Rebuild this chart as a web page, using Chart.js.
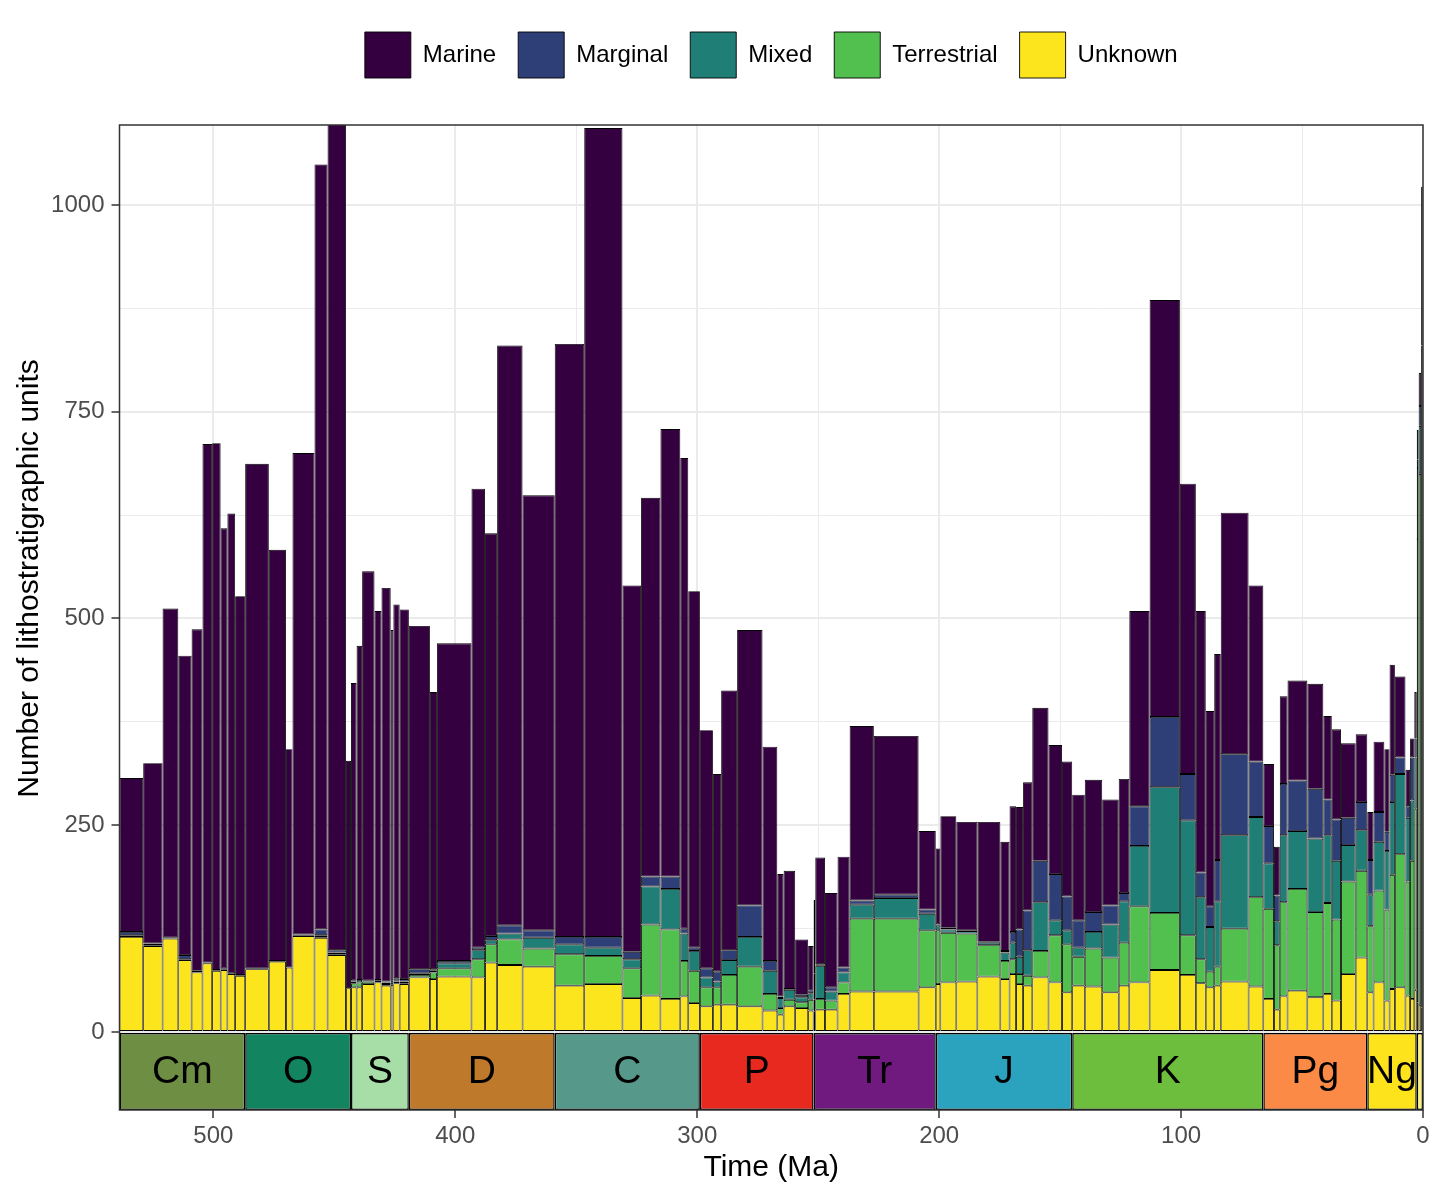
<!DOCTYPE html>
<html>
<head>
<meta charset="utf-8">
<title>Lithostratigraphic units through the Phanerozoic</title>
<script src="https://cdn.jsdelivr.net/npm/chart.js@4.4.1/dist/chart.umd.min.js"></script>
<style>
  html, body { margin: 0; padding: 0; background: #fff; }
  #wrap { width: 1440px; height: 1200px; }
</style>
</head>
<body>
<div id="wrap"><canvas id="units-chart" width="1440" height="1200"></canvas></div>
<script>
/* Lithostratigraphic units per stage, stacked by environment */

// stage boundaries (Ma), oldest first; stage i spans stageBounds[i] -> stageBounds[i + 1]
const stageBounds = [
  538.8, 529, 521, 514.5, 509, 504.5, 500.5, 497, 494.2, 491, 486.85,
  477.08, 470, 467.3, 458.2, 452.8, 445.2, 443.1,
  440.8, 438.5, 433.4, 430.5, 426.7, 425.6, 423, 419.2,
  410.5, 407.6, 393.3, 387.7, 382.7, 372.2, 358.9,
  346.7, 330.9, 323.2, 315.2, 307, 303.7, 298.9,
  293.52, 290.1, 283.5, 273.01, 266.9, 264.28, 259.51, 254.14, 251.902,
  251.2, 247.2, 242, 237, 227, 208.5, 201.4,
  199.5, 192.9, 184.2, 174.7, 170.9, 168.2, 165.3, 161.5, 154.8, 149.2, 145,
  139.8, 132.6, 125.77, 121.4, 113, 100.5, 93.9, 89.8, 86.3, 83.6, 72.1, 66,
  61.6, 59.2, 56, 47.8, 41.2, 37.71, 33.9, 27.82, 23.03,
  20.44, 15.98, 13.82, 11.63, 7.246, 5.333, 3.6, 2.58,
  1.8, 0.774, 0.129
];

const stageNames = [
  'Fortunian', 'Stage 2', 'Stage 3', 'Stage 4', 'Wuliuan', 'Drumian', 'Guzhangian', 'Paibian', 'Jiangshanian', 'Stage 10',
  'Tremadocian', 'Floian', 'Dapingian', 'Darriwilian', 'Sandbian', 'Katian', 'Hirnantian',
  'Rhuddanian', 'Aeronian', 'Telychian', 'Sheinwoodian', 'Homerian', 'Gorstian', 'Ludfordian', 'Pridoli',
  'Lochkovian', 'Pragian', 'Emsian', 'Eifelian', 'Givetian', 'Frasnian', 'Famennian',
  'Tournaisian', 'Visean', 'Serpukhovian', 'Bashkirian', 'Moscovian', 'Kasimovian', 'Gzhelian',
  'Asselian', 'Sakmarian', 'Artinskian', 'Kungurian', 'Roadian', 'Wordian', 'Capitanian', 'Wuchiapingian', 'Changhsingian',
  'Induan', 'Olenekian', 'Anisian', 'Ladinian', 'Carnian', 'Norian', 'Rhaetian',
  'Hettangian', 'Sinemurian', 'Pliensbachian', 'Toarcian', 'Aalenian', 'Bajocian', 'Bathonian', 'Callovian', 'Oxfordian', 'Kimmeridgian', 'Tithonian',
  'Berriasian', 'Valanginian', 'Hauterivian', 'Barremian', 'Aptian', 'Albian', 'Cenomanian', 'Turonian', 'Coniacian', 'Santonian', 'Campanian', 'Maastrichtian',
  'Danian', 'Selandian', 'Thanetian', 'Ypresian', 'Lutetian', 'Bartonian', 'Priabonian', 'Rupelian', 'Chattian',
  'Aquitanian', 'Burdigalian', 'Langhian', 'Serravallian', 'Tortonian', 'Messinian', 'Zanclean', 'Piacenzian',
  'Gelasian', 'Calabrian', 'Chibanian'
];

// counts per stage (same order as stageNames)
const unknown = [
  115, 104, 113, 87, 72, 83, 74, 75, 70, 68,
  76, 85, 78, 116, 114, 93, 53,
  54, 54, 58, 60, 56, 57, 59, 58,
  66, 64, 67, 66, 84, 81, 79,
  56, 58, 41, 44, 40, 43, 35,
  31, 33, 33, 31, 26, 21, 31, 29, 26,
  25, 27, 27, 46, 49, 49, 54,
  58, 60, 61, 67, 64, 70, 58, 56, 66, 60, 48,
  56, 55, 48, 56, 60, 75, 69, 59, 54, 56, 61, 55,
  40, 27, 43, 50, 42, 46, 38, 70, 90,
  48, 60, 38, 52, 54, 44, 40, 51,
  36, 33, 30
];
const terrestrial = [
  0, 0, 0, 0, 0, 0, 0, 1, 0, 0,
  0, 0, 0, 1, 2, 1, 0,
  5, 6, 3, 2, 2, 1, 2, 1,
  3, 8, 10, 22, 22, 31, 22,
  38, 34, 36, 86, 84, 43, 39,
  23, 21, 36, 48, 20, 8, 8, 7, 13,
  14, 13, 11, 14, 88, 88, 69,
  65, 60, 58, 38, 22, 18, 12, 12, 32, 57, 58,
  35, 46, 42, 52, 92, 69, 48, 29, 19, 23, 64, 108,
  109, 78, 114, 123, 103, 110, 98, 112, 105,
  80, 111, 110, 138, 161, 138, 167, 219,
  560, 642, 600
];
const mixed = [
  2, 1, 1, 1, 0, 0, 0, 1, 0, 0,
  0, 1, 0, 1, 1, 2, 0,
  2, 3, 1, 1, 2, 4, 1, 2,
  2, 2, 6, 11, 5, 7, 13,
  12, 10, 11, 46, 49, 33, 24,
  12, 7, 18, 36, 28, 12, 12, 6, 8,
  30, 40, 11, 12, 17, 25, 20,
  6, 4, 3, 3, 10, 20, 21, 31, 59, 18, 17,
  11, 20, 40, 50, 73, 152, 139, 75, 54, 79, 113, 97,
  55, 29, 81, 70, 89, 82, 71, 44, 49,
  38, 59, 71, 88, 97, 77, 73, 62,
  86, 58, 150
];
const marginal = [
  4, 2, 0, 5, 2, 1, 1, 0, 1, 1,
  1, 0, 0, 0, 7, 3, 0,
  1, 0, 0, 0, 1, 0, 3, 3,
  5, 2, 3, 3, 5, 10, 9,
  9, 13, 9, 12, 15, 6, 4,
  11, 12, 12, 38, 12, 2, 1, 3, 3,
  2, 2, 5, 6, 5, 4, 5,
  1, 2, 1, 1, 2, 13, 33, 48, 50, 56, 41,
  33, 24, 23, 10, 48, 85, 56, 30, 25, 50, 98, 67,
  45, 31, 62, 61, 60, 43, 50, 33, 34,
  42, 36, 23, 33, 20, 14, 52, 23,
  10, 24, 50
];
const marine = [
  186, 218, 398, 362, 413, 627, 637, 532, 556, 458,
  610, 497, 264, 582, 925, 1081, 275,
  360, 404, 495, 446, 476, 424, 452, 447,
  415, 335, 384, 555, 487, 701, 526,
  717, 978, 443, 458, 541, 569, 431,
  288, 239, 314, 333, 259, 148, 143, 67, 54,
  89, 129, 114, 134, 211, 192, 95,
  92, 135, 131, 145, 132, 152, 148, 155, 185, 156, 163,
  152, 160, 128, 138, 236, 504, 351, 316, 236, 249, 292, 213,
  75, 59, 106, 121, 127, 101, 109, 90, 82,
  58, 85, 100, 133, 98, 44, 23, 56,
  36, 40, 192
];

// geological periods for the time scale strip ('' = no label, Quaternary too narrow)
const periodLabels = ['Cm', 'O', 'S', 'D', 'C', 'P', 'Tr', 'J', 'K', 'Pg', 'Ng', ''];
const periodStart = [538.8, 486.85, 443.1, 419.2, 358.9, 298.9, 251.902, 201.4, 145, 66, 23.03, 2.58];
const periodEnd = [486.85, 443.1, 419.2, 358.9, 298.9, 251.902, 201.4, 145, 66, 23.03, 2.58, 0];
const periodColors = ['#6E8E44', '#12845F', '#A7DDA7', '#BF792B', '#569889', '#E8291F',
  '#701A80', '#2BA3BF', '#6EBE3E', '#FA8A45', '#FDE31C', '#F9F27B'];

const Y_MIN = -94.3, Y_MAX = 1096.7;
const FONT = "'Liberation Sans', Arial, Helvetica, sans-serif";
Chart.defaults.font.family = FONT;

function stagePoints(values) {
  return values.map((v, i) => ({ x: (stageBounds[i] + stageBounds[i + 1]) / 2, y: v }));
}

const series = [
  { label: 'Unknown', values: unknown, color: '#FDE51E' },
  { label: 'Terrestrial', values: terrestrial, color: '#52C04F' },
  { label: 'Mixed', values: mixed, color: '#1F7F76' },
  { label: 'Marginal', values: marginal, color: '#2E3E77' },
  { label: 'Marine', values: marine, color: '#35003F' }
];

const datasets = series.map(s => ({
  label: s.label,
  stack: 'units',
  data: stagePoints(s.values),
  backgroundColor: s.color,
  borderColor: '#000000',
  borderWidth: 0.9,
  borderSkipped: false,
  inflateAmount: 0
}));

datasets.push({
  label: 'periods',
  stack: 'periods',
  data: periodLabels.map((_, i) => ({ x: (periodStart[i] + periodEnd[i]) / 2, y: [Y_MIN, 0] })),
  backgroundColor: periodColors,
  borderColor: '#000',
  borderWidth: 1.5,
  borderSkipped: false,
  inflateAmount: 0
});

// spans bars over their real stage / period interval, legend centring, panel frame, labels
const stagePlugin = {
  id: 'stagePlugin',
  beforeUpdate(chart) {
    const lg = chart.legend;
    if (lg && !lg._gapPatched) {
      const fit = lg.fit;
      lg.fit = function () { fit.call(this); this.height += 37; };
      lg._gapPatched = true;
    }
  },
  afterLayout(chart) {
    const lg = chart.legend, a = chart.chartArea;
    lg.left = a.left;
    lg.right = a.right;
    lg.width = a.right - a.left;
  },
  afterDatasetsUpdate(chart) {
    const xs = chart.scales.x;
    chart.data.datasets.forEach((ds, di) => {
      const isPeriod = ds.stack === 'periods';
      chart.getDatasetMeta(di).data.forEach((bar, i) => {
        const a = xs.getPixelForValue(isPeriod ? periodStart[i] : stageBounds[i]);
        const b = xs.getPixelForValue(isPeriod ? periodEnd[i] : stageBounds[i + 1]);
        bar.x = (a + b) / 2;
        bar.width = Math.abs(b - a);
      });
    });
  },
  afterDatasetsDraw(chart) {
    const { ctx, scales: { x, y } } = chart;
    ctx.save();
    ctx.font = `39px ${FONT}`;
    ctx.fillStyle = '#000';
    ctx.textAlign = 'center';
    ctx.textBaseline = 'middle';
    const cy = y.getPixelForValue(Y_MIN / 2) + 1;
    periodLabels.forEach((lab, i) => {
      if (!lab) return;
      ctx.fillText(lab, (x.getPixelForValue(periodStart[i]) + x.getPixelForValue(periodEnd[i])) / 2, cy);
    });
    ctx.restore();
  },
  afterDraw(chart) {
    const { ctx, chartArea: a, scales: { y } } = chart;
    ctx.save();
    ctx.strokeStyle = '#333';
    ctx.lineWidth = 1.5;
    ctx.strokeRect(a.left, a.top, a.right - a.left, a.bottom - a.top);
    // y title centred on the 0..max part of the panel
    ctx.translate(30, (a.top + y.getPixelForValue(0)) / 2);
    ctx.rotate(-Math.PI / 2);
    ctx.font = `30px ${FONT}`;
    ctx.fillStyle = '#000';
    ctx.textAlign = 'center';
    ctx.textBaseline = 'middle';
    ctx.fillText('Number of lithostratigraphic units', 0, 0);
    ctx.restore();
  }
};

const isMajorX = c => c.tick && c.tick.value % 100 === 0;
const isMajorY = c => c.tick && c.tick.value % 250 === 0;

new Chart(document.getElementById('units-chart'), {
  type: 'bar',
  data: { datasets },
  plugins: [stagePlugin],
  options: {
    responsive: false,
    devicePixelRatio: 1,
    animation: false,
    events: [],
    layout: { padding: { top: 10, right: 17, bottom: 0, left: 0 } },
    plugins: {
      tooltip: { enabled: false },
      legend: {
        position: 'top',
        align: 'center',
        reverse: true,
        labels: {
          boxWidth: 46,
          boxHeight: 46,
          padding: 22,
          color: '#000',
          font: { size: 24 },
          filter: item => item.text !== 'periods'
        }
      }
    },
    scales: {
      x: {
        type: 'linear',
        reverse: true,
        stacked: true,
        offset: false,
        min: 0,
        max: 538.8,
        afterFit: s => { s.height = 90; },
        border: { display: false },
        grid: {
          offset: false,
          color: '#EBEBEB',
          lineWidth: c => isMajorX(c) ? 2 : 1,
          tickColor: c => isMajorX(c) ? '#333' : 'rgba(0,0,0,0)',
          tickLength: 8,
          tickWidth: 1.5
        },
        ticks: {
          stepSize: 50,
          includeBounds: false,
          autoSkip: false,
          maxRotation: 0,
          padding: 4,
          color: '#4D4D4D',
          font: { size: 24 },
          callback: v => v % 100 === 0 ? String(v) : ''
        },
        title: {
          display: true,
          text: 'Time (Ma)',
          color: '#000',
          font: { size: 30 },
          padding: { top: 0, bottom: 14 }
        }
      },
      y: {
        stacked: true,
        min: Y_MIN,
        max: Y_MAX,
        afterFit: s => { s.width = 119.5; },
        border: { display: false },
        grid: {
          color: '#EBEBEB',
          lineWidth: c => isMajorY(c) ? 2 : 1,
          tickColor: c => isMajorY(c) ? '#333' : 'rgba(0,0,0,0)',
          tickLength: 8,
          tickWidth: 1.5
        },
        ticks: {
          stepSize: 125,
          includeBounds: false,
          padding: 7,
          color: '#4D4D4D',
          font: { size: 24 },
          callback: v => v % 250 === 0 ? String(v) : ''
        },
        title: { display: false }
      }
    }
  }
});
</script>
</body>
</html>
